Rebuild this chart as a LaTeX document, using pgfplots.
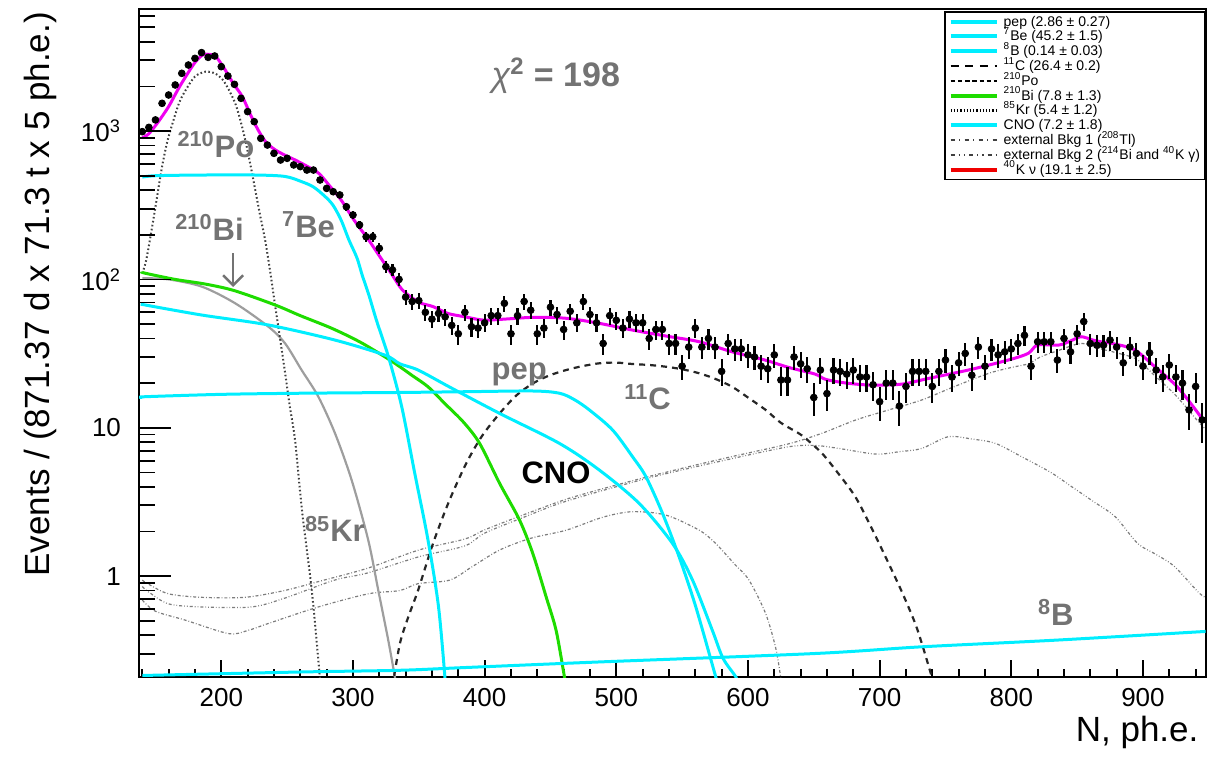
\documentclass[border=0pt]{standalone}
\usepackage{fontspec}
\setmainfont{Liberation Sans}
\usepackage{pgfplots}
\pgfplotsset{compat=1.18}
\usepackage{pgfplotstable}
\usetikzlibrary{calc,arrows.meta}

\definecolor{rcyan}{RGB}{0,238,255}
\definecolor{rgreen}{RGB}{30,220,0}
\definecolor{rmag}{RGB}{240,0,240}
\definecolor{rred}{RGB}{240,0,0}
\definecolor{lblgray}{RGB}{115,115,115}
\definecolor{bkggray}{RGB}{125,125,125}

\newcommand{\legtxt}[1]{\makebox[96pt][l]{\rule[-1.5pt]{0pt}{7.4pt}\smash{#1}}}

\pgfplotstableread{
x y e
140 991 31.5
145 1059 32.5
150 1189 34.5
155 1538 39.2
160 1750 41.8
165 2045 45.2
170 2450 49.5
175 2787 52.8
180 3090 55.6
185 3379 58.1
190 3140 56.0
195 3206 56.6
200 2717 52.1
205 2350 48.5
210 2065 45.4
215 1662 40.8
220 1352 36.8
225 1157 34.0
230 893 29.9
235 805 28.4
240 708 26.6
245 638 25.3
250 655 25.6
255 591 24.3
260 576 24.0
265 546 23.4
270 546 23.4
275 468 21.6
280 411 20.3
285 390 19.7
290 371 19.3
295 309 17.6
300 272 16.5
305 233 15.3
310 194 13.9
315 194 13.9
320 162 12.7
325 122 11.0
330 116 10.8
335 100 10.0
340 76 8.7
345 71 8.4
350 72 8.5
355 60 7.7
360 54 7.3
365 59 7.7
370 56 7.5
375 49 7.0
380 43 6.6
385 60 7.7
390 48 6.9
395 47 6.9
400 51 7.1
405 57 7.5
410 57 7.5
415 69 8.3
420 43 6.6
425 57 7.5
430 71 8.4
435 62 7.9
440 43 6.6
445 47 6.9
450 65 8.1
455 58 7.6
460 46 6.8
465 61 7.8
470 51 7.1
475 71 8.4
480 58 7.6
485 51 7.1
490 37 6.1
495 57 7.5
500 53 7.3
505 47 6.9
510 54 7.3
515 51 7.1
520 51 7.1
525 40 6.3
530 46 6.8
535 46 6.8
540 37 6.1
545 37 6.1
550 26 5.1
555 35 5.9
560 47 6.9
565 35 5.9
570 40 6.3
575 35 5.9
580 24 4.9
585 37 6.1
590 34 5.8
595 34 5.8
600 31 5.6
605 30 5.5
610 26 5.1
615 25 5.0
620 31 5.6
625 21 4.6
630 21 4.6
635 30 5.5
640 27 5.2
645 25 5.0
650 16 4.0
655 24.5 4.9
660 17 4.1
665 24.5 4.9
670 24 4.9
675 23 4.8
680 24.5 4.9
685 22 4.7
690 22 4.7
695 19.5 4.4
700 15 3.9
705 20 4.5
710 20 4.5
715 14 3.7
720 19 4.4
725 24 4.9
730 24 4.9
735 24 4.9
740 19 4.4
745 24 4.9
750 28.6 5.3
755 22 4.7
760 27.4 5.2
765 31.7 5.6
770 22.6 4.8
775 35 5.9
780 26 5.1
785 34 5.8
790 31 5.6
795 32.5 5.7
800 34 5.8
805 37 6.1
810 42 6.5
815 26 5.1
820 38 6.2
825 38 6.2
830 38 6.2
835 28.6 5.3
840 40 6.3
845 32.5 5.7
850 43 6.6
855 52 7.2
860 37 6.1
865 36 6.0
870 36 6.0
875 39 6.2
880 35 5.9
885 27.4 5.2
890 35 5.9
895 31.7 5.6
900 26 5.1
905 32 5.7
910 24.5 4.9
915 22 4.7
920 26.5 5.1
925 22 4.7
930 20 4.5
935 13.2 3.6
940 19 4.4
945 11.3 3.4
}\data

\begin{document}
\begin{tikzpicture}
\begin{axis}[
  scale only axis, width=533.25pt, height=334pt,
  ymode=log, xmin=137.5, xmax=947.5, ymin=0.209, ymax=6650,
  tick pos=left, tick align=inside,
  every tick/.style={black, line width=0.9pt},
  tick label style={font=\fontsize{13}{15}\selectfont},
  label style={font=\fontsize{17.5}{20}\selectfont},
  axis line style={line width=1pt},
  major tick length=8.5pt, minor tick length=4pt,
  xtick={200,300,...,900}, xticklabels={200,300,400,500,600,700,800,900},
  minor xtick={140,160,...,940},
  ytick=\empty, minor ytick={},
  xticklabel style={yshift=-2.2pt},
  xlabel={N, ph.e.},
  xlabel style={at={(axis description cs:1,-0.097)}, anchor=base east},
  legend image code/.code={\draw[#1] (0pt,0pt) -- (23pt,0pt);},
  legend cell align=left,
  legend style={at={(1,0.997)}, anchor=north east, draw=black, line width=0.8pt, fill=white,
    font=\fontsize{7}{8}\selectfont, inner xsep=2pt, inner ysep=1.2pt, row sep=0pt,
    nodes={inner ysep=0pt, inner xsep=2.5pt}},
]
% legend
\addlegendimage{rcyan, line width=2pt}
\addlegendentry{\legtxt{pep (2.86 ± 0.27)}}
\addlegendimage{rcyan, line width=2pt}
\addlegendentry{\legtxt{\textsuperscript{7}Be (45.2 ± 1.5)}}
\addlegendimage{rcyan, line width=2pt}
\addlegendentry{\legtxt{\textsuperscript{8}B (0.14 ± 0.03)}}
\addlegendimage{black, line width=1.3pt, dash pattern=on 4pt off 3.3pt}
\addlegendentry{\legtxt{\textsuperscript{11}C (26.4 ± 0.2)}}
\addlegendimage{black, line width=1.3pt, dash pattern=on 2.2pt off 1.4pt}
\addlegendentry{\legtxt{\textsuperscript{210}Po}}
\addlegendimage{rgreen, line width=2pt}
\addlegendentry{\legtxt{\textsuperscript{210}Bi (7.8 ± 1.3)}}
\addlegendimage{black, line width=1.5pt, dash pattern=on 0.6pt off 1pt}
\addlegendentry{\legtxt{\textsuperscript{85}Kr (5.4 ± 1.2)}}
\addlegendimage{rcyan, line width=2pt}
\addlegendentry{\legtxt{CNO (7.2 ± 1.8)}}
\addlegendimage{black!75, line width=0.9pt, dash pattern=on 2pt off 2.2pt on 0.6pt off 2.2pt}
\addlegendentry{\legtxt{external Bkg 1 (\textsuperscript{208}Tl)}}
\addlegendimage{black!75, line width=0.9pt, dash pattern=on 2pt off 2pt on 0.6pt off 2pt on 0.6pt off 2pt}
\addlegendentry{\legtxt{external Bkg 2 (\textsuperscript{214}Bi and \textsuperscript{40}K γ)}}
\addlegendimage{rred, line width=2pt}
\addlegendentry{\legtxt{\textsuperscript{40}K ν (19.1 ± 2.5)}}

% external backgrounds
\addplot[forget plot, bkggray, line width=0.6pt, dash pattern=on 1.5pt off 1pt on 0.4pt off 1pt, smooth] coordinates {
(140,0.94)(145,0.88)(160,0.76)(185,0.72)(218,0.72)(248,0.80)(274,0.92)(311,1.13)(350,1.5)(385,1.78)(400,2.05)(430,2.6)(462,3.3)(495,4.0)(525,4.7)(560,5.6)(588,6.4)(631,7.8)(656,9.17)(682,11.3)(707,13.2)(732,15.4)(757,19)(783,23.3)(800,25.5)(813,27)(822,30)(835,33)(853,37)(868,34)(880,32)(895,29)(910,22)(925,16.5)(942,11)(947.5,9.8)};
\addplot[forget plot, bkggray, line width=0.6pt, dash pattern=on 1.5pt off 1pt on 0.4pt off 1pt on 0.4pt off 1pt, smooth] coordinates {
(140,0.85)(145,0.78)(160,0.65)(185,0.62)(223,0.62)(248,0.71)(286,0.94)(311,1.05)(350,1.35)(385,1.6)(400,1.95)(430,2.5)(462,3.2)(525,4.6)(588,6.2)(631,7.45)(651,7.6)(669,7.26)(697,6.65)(715,6.9)(732,7.26)(752,8.7)(770,8.4)(788,7.85)(808,6.37)(830,5.0)(846,4.0)(862,3.2)(879,2.51)(896,1.66)(910,1.4)(924,1.16)(942,0.78)(947.5,0.72)};
\addplot[forget plot, bkggray, line width=0.6pt, dash pattern=on 1.5pt off 1pt on 0.4pt off 1pt, smooth] coordinates {
(140,0.69)(150,0.58)(172.7,0.505)(205.5,0.41)(220,0.43)(235.8,0.48)(273.7,0.62)(311.6,0.76)(335.6,0.80)(349.5,0.89)(373.5,0.94)(390,1.15)(411.4,1.5)(435,1.8)(461.9,2.04)(490,2.5)(512.4,2.72)(537.6,2.58)(563,2.04)(575.5,1.66)(590,1.2)(600.8,0.94)(613.4,0.56)(621,0.33)(624.8,0.21)(626,0.18)};

% 85Kr
\addplot[forget plot, black!38, line width=1.1pt, smooth] coordinates {
(140,102)(160,100)(185.4,89.3)(210.6,69)(235.8,48)(248.5,37)(261,24.5)(273.7,16.2)(286.4,9.16)(299,4.44)(311.6,1.75)(319.2,0.805)(326.8,0.37)(331.8,0.21)(333,0.18)};
% 210Po
\addplot[forget plot, black!75, line width=1pt, dash pattern=on 0.8pt off 1.2pt, smooth] coordinates {
(140,110)(143,135)(147.5,227)(151,350)(155,575)(159,850)(163,1130)(168,1550)(173,1892)(180,2330)(188,2513)(195,2450)(200.5,2250)(205,1950)(210.6,1538)(214.5,1180)(218.2,871)(222,600)(225.8,401)(229.5,270)(233.3,184)(237,115)(241,65.5)(245,38)(248.5,23.3)(252,14)(256,8.26)(261,2.93)(265,1.5)(268.7,0.805)(272,0.4)(275,0.2)};
% 11C
\addplot[forget plot, black!85, line width=1.1pt, dash pattern=on 3pt off 2.5pt, smooth] coordinates {
(330,0.18)(335.6,0.35)(342,0.53)(349.5,0.805)(360.8,1.66)(373,3.2)(386,5.75)(398,8.8)(411.4,12.5)(424,16.5)(436.6,19.9)(449,22.5)(461.9,24.5)(474,26)(487,27.2)(500,27.5)(512.4,26.9)(525,26.5)(537.6,25.8)(550,24.8)(563,23.3)(575,21.4)(588,18.9)(600,16)(613.4,13.2)(625,10.8)(638.6,9.17)(645,8.3)(656.3,6.72)(668,5.0)(681.6,3.42)(694,2.1)(706.8,1.22)(717,0.78)(727,0.48)(733,0.33)(739.6,0.21)(742,0.18)};
% 210Bi
\addplot[forget plot, rgreen, line width=1.5pt, smooth] coordinates {
(140,112)(142.4,110)(165,100)(188,93)(210,84)(241,67.2)(260,57)(284,46.8)(305,38)(324.2,30.1)(335.6,25.8)(345,22.5)(357,18.9)(370,14.5)(384,10.9)(396.2,7.85)(411.4,4.22)(426.5,2.39)(436.6,1.42)(446.7,0.726)(454.3,0.43)(460.6,0.21)(462,0.18)};
% CNO
\addplot[forget plot, rcyan, line width=1.5pt, smooth] coordinates {
(140,68)(142.4,67.2)(185.4,57.5)(235.8,49.3)(286.4,39)(324.2,30.9)(335.6,27)(349.5,24.5)(374,18.7)(411.4,12.5)(456.8,7.85)(487.1,5.19)(517.4,3.09)(542.7,1.66)(557.9,0.94)(573,0.43)(581,0.28)(590.7,0.21)(592,0.19)};
% pep
\addplot[forget plot, rcyan, line width=1.5pt, smooth] coordinates {
(140,16.0)(142.4,16.2)(200,16.8)(261,17.1)(335.6,17.3)(384.8,17.5)(436.6,17.7)(456.8,17.1)(468,15.5)(479.5,13.2)(497.2,9.66)(512.4,6.37)(522.5,4.68)(535.1,2.65)(547.7,1.35)(560.4,0.62)(575.5,0.21)(577,0.19)};
% 7Be
\addplot[forget plot, rcyan, line width=1.5pt, smooth] coordinates {
(140,490)(150,500)(180,505)(223,506)(248,495)(261,456)(270,420)(279,361)(285,315)(291,251)(297,184)(303,140)(307,107)(312,79)(318,52.5)(327,30)(337,13.9)(347,4.9)(357,1.75)(365,0.62)(370,0.2)};
% 8B
\addplot[forget plot, rcyan, line width=1.5pt, smooth] coordinates {
(140,0.214)(261,0.226)(335.6,0.232)(384.8,0.242)(487,0.264)(651,0.301)(732,0.334)(833,0.37)(941.7,0.421)(947.5,0.424)};
% total fit
\addplot[forget plot, rmag, line width=1.5pt, smooth] coordinates {
(140,900)(145,960)(152,1150)(160,1462)(167,1900)(173,2330)(180,2900)(186,3260)(192,3280)(196,3175)(203,2582)(209,2100)(216,1706)(222,1300)(228,1016)(234,840)(241,747)(248,690)(256,639)(265,580)(274,519)(282,430)(291,343)(301,250)(312,184)(321,140)(329,110)(337,86)(345,75)(352,69)(361,65.5)(372,59)(385,56)(399,53.2)(415,54)(437,55.5)(462,54.7)(487,50.6)(512,45.6)(538,41.5)(563,38)(588,32.5)(613,28.6)(631,25.5)(651,23)(659,21.2)(675,20)(694,19.4)(717,19.7)(737,21.5)(770,24.8)(800,29)(813,31.8)(820,36.1)(836,36.1)(845,38.5)(853,41.1)(862,39)(868,38)(880,36.5)(894,33.4)(909,25.8)(926,18.9)(942,12.5)(946,11)};
% data
\addplot[forget plot, only marks, mark=*, mark size=1.7pt, black,
  error bars/.cd, y dir=both, y explicit, error mark=none,
  error bar style={line width=1.1pt, black}]
  table[x=x, y=y, y error=e] {\data};

% annotations
\node[anchor=base west, text=lblgray, font=\bfseries\fontsize{15.5}{17}\selectfont] at (axis cs:161.4,668) {\textsuperscript{210}Po};
\node[anchor=base west, text=lblgray, font=\bfseries\fontsize{15.5}{17}\selectfont] at (axis cs:159.8,184) {\textsuperscript{210}Bi};
\node[anchor=base west, text=lblgray, font=\bfseries\fontsize{15.5}{17}\selectfont] at (axis cs:240.9,193) {\textsuperscript{7}Be};
\node[anchor=base west, text=lblgray, font=\bfseries\fontsize{15.5}{17}\selectfont] at (axis cs:258.3,1.70) {\textsuperscript{85}Kr};
\node[anchor=base west, text=lblgray, font=\bfseries\fontsize{15.5}{17}\selectfont] at (axis cs:400,21) {pep};
\node[anchor=base west, text=lblgray, font=\bfseries\fontsize{15.5}{17}\selectfont] at (axis cs:500.8,13.2) {\textsuperscript{11}C};
\node[anchor=base west, text=black, font=\bfseries\fontsize{15.5}{17}\selectfont] at (axis cs:422.7,4.24) {CNO};
\node[anchor=base west, text=lblgray, font=\bfseries\fontsize{15.5}{17}\selectfont] at (axis cs:815,0.467) {\textsuperscript{8}B};
\node[anchor=base west, text=lblgray, font=\bfseries\fontsize{17}{19}\selectfont] at (axis cs:400,1983) {{\mdseries\itshape χ}\textsuperscript{2} = 198};
\draw[lblgray, line width=1.2pt, -{Straight Barb[length=5pt,width=10pt]}] (axis cs:209,150) -- (axis cs:209,89);
\end{axis}
% second axis: y ticks (longer) and y label
\begin{axis}[
  scale only axis, width=533.25pt, height=334pt,
  ymode=log, xmin=137.5, xmax=947.5, ymin=0.209, ymax=6650,
  tick pos=left, tick align=inside,
  every tick/.style={black, line width=0.9pt},
  tick label style={font=\fontsize{13}{15}\selectfont},
  label style={font=\fontsize{17.5}{20}\selectfont},
  axis line style={draw=none},
  major tick length=16pt, minor tick length=8pt,
  xtick=\empty, minor xtick={},
  ytick={1,10,100,1000}, yticklabels={1,10,10\textsuperscript{2},10\textsuperscript{3}},
  minor ytick={0.3,0.4,0.5,0.6,0.7,0.8,0.9,2,3,4,5,6,7,8,9,20,30,40,50,60,70,80,90,200,300,400,500,600,700,800,900,2000,3000,4000,5000,6000},
  yticklabel style={xshift=-5.5pt},
  ylabel={Events / (871.37 d x 71.3 t x 5 ph.e.)},
  ylabel style={at={(axis description cs:-0.0928,0.573)}, anchor=center},
]
\addplot[draw=none, forget plot] coordinates {(500,1)};
\end{axis}
\pgfresetboundingbox
\path ($(current axis.south west)+(-69.5pt,-41pt)$) rectangle ($(current axis.north east)+(2.25pt,4.5pt)$);
\end{tikzpicture}
\end{document}
